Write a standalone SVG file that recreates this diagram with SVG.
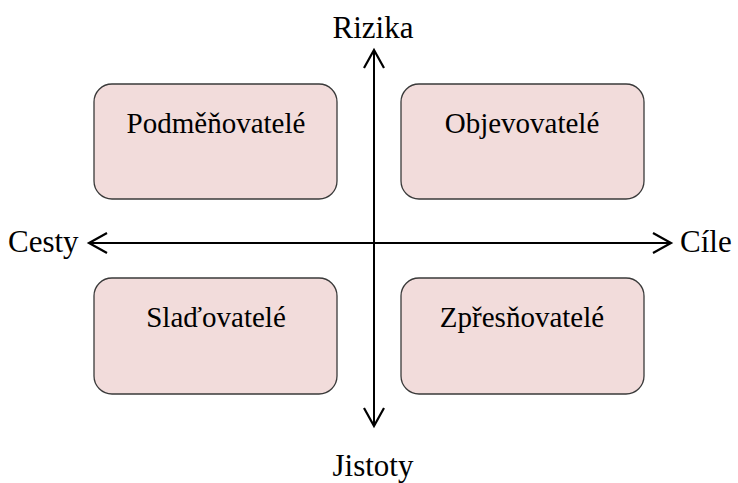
<svg xmlns="http://www.w3.org/2000/svg" width="738" height="483" viewBox="0 0 738 483">
<defs>
<style>
.box{fill:#f2dcdb;stroke:#3a3a3a;stroke-width:1.3}
.axis{stroke:#000;stroke-width:2;fill:none}
.head{stroke:#000;stroke-width:2.2;fill:none;stroke-linecap:butt;stroke-linejoin:miter}
.lbl{font-family:'Liberation Serif','Times New Roman',serif;font-size:29px;text-anchor:middle;fill:#000}
.ax{font-family:'Liberation Serif','Times New Roman',serif;font-size:31px;fill:#000}
</style>
</defs>
<rect x="0" y="0" width="738" height="483" fill="#fff"/>
<g id="connectors">
<line class="axis" x1="374" y1="50" x2="374" y2="426"/>
<line class="axis" x1="89" y1="243" x2="671" y2="243"/>
<polyline class="head" points="364,68 374,50 384,68"/>
<polyline class="head" points="364,408 374,426 384,408"/>
<polyline class="head" points="107,233 89,243 107,253"/>
<polyline class="head" points="653,233 671,243 653,253"/>
</g>
<g id="podmenovatele">
<rect class="box" x="94" y="84" width="243" height="115" rx="18" ry="18"/>
<text class="lbl" x="216" y="133">Podměňovatelé</text>
</g>
<g id="objevovatele">
<rect class="box" x="401" y="84" width="243" height="115" rx="18" ry="18"/>
<text class="lbl" x="522" y="133">Objevovatelé</text>
</g>
<g id="sladovatele">
<rect class="box" x="94" y="278" width="243" height="116" rx="18" ry="18"/>
<text class="lbl" x="216" y="327">Slaďovatelé</text>
</g>
<g id="zpresnovatele">
<rect class="box" x="401" y="278" width="243" height="116" rx="18" ry="18"/>
<text class="lbl" x="522" y="327">Zpřesňovatelé</text>
</g>
<g id="rizika"><text class="ax" x="373" y="38" text-anchor="middle">Rizika</text></g>
<g id="jistoty"><text class="ax" x="373" y="476" text-anchor="middle">Jistoty</text></g>
<g id="cesty"><text class="ax" x="8" y="252">Cesty</text></g>
<g id="cile"><text class="ax" x="680" y="252">Cíle</text></g>
</svg>
